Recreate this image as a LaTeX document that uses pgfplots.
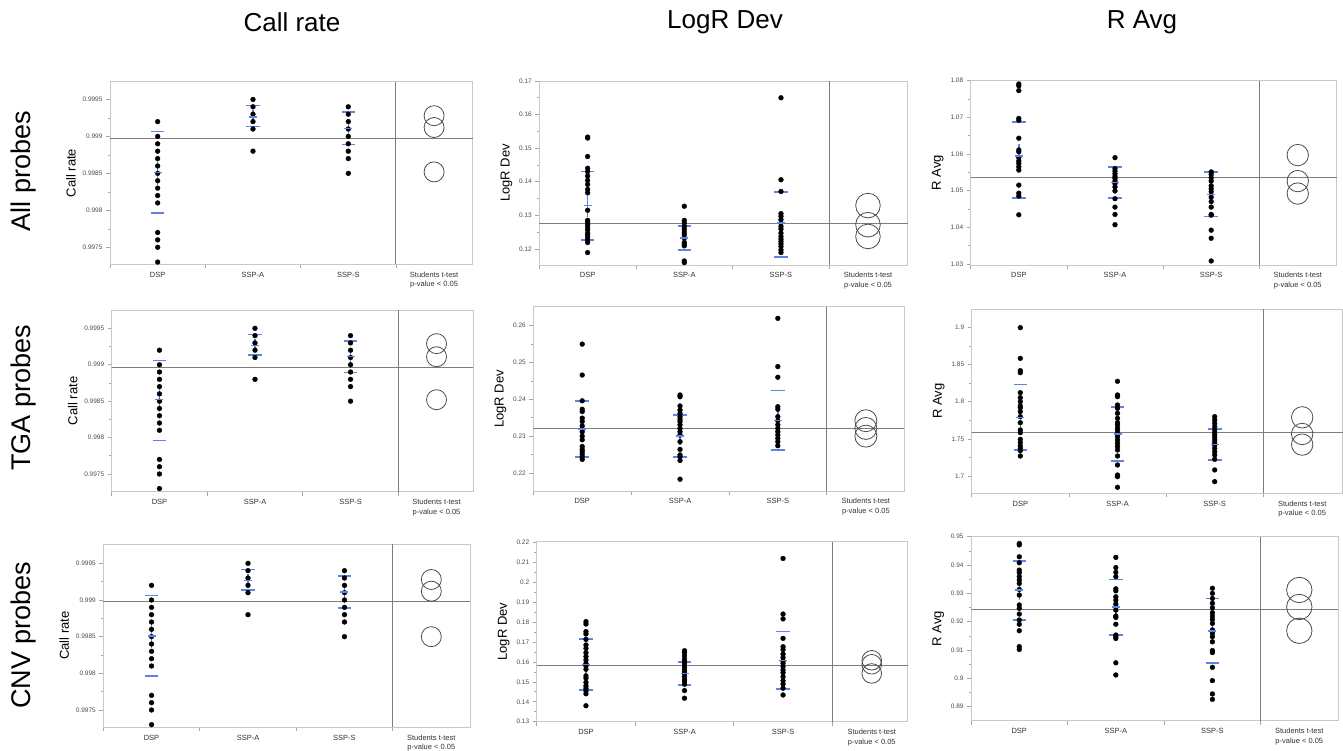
\documentclass[border=0pt]{standalone}
\usepackage{fontspec}
\setmainfont{Liberation Sans}
\usepackage{pgfplots}
\pgfplotsset{compat=1.18}
\usepackage{pgfplotstable}
\usetikzlibrary{plotmarks}
\definecolor{sdblue}{RGB}{95,130,230}
\definecolor{framec}{RGB}{200,200,200}
\definecolor{refl}{RGB}{125,125,125}

\pgfplotstableread{
x y
0.5 0.9992
0.5 0.9990
0.5 0.9989
0.5 0.9988
0.5 0.9987
0.5 0.9986
0.5 0.9985
0.5 0.9984
0.5 0.9983
0.5 0.9982
0.5 0.9981
0.5 0.9977
0.5 0.9976
0.5 0.9975
0.5 0.9973
1.5 0.9995
1.5 0.9994
1.5 0.9993
1.5 0.9992
1.5 0.9991
1.5 0.9988
2.5 0.9994
2.5 0.9993
2.5 0.9992
2.5 0.9991
2.5 0.9990
2.5 0.9989
2.5 0.9988
2.5 0.9987
2.5 0.9985
}\tCR

\pgfplotsset{
  panel/.style={
    scale only axis, anchor=south west,
    xmin=0,
    axis line style={draw=framec, line width=0.9pt},
    xtick={0,1,2,3}, xticklabels={},
    extra x ticks={0.5,1.5,2.5,3.4},
    extra x tick labels={DSP,SSP-A,SSP-S,{Students t-test\\p-value < 0.05}},
    extra x tick style={major tick length=0pt, xticklabel style={align=center, font=\fontsize{7.5}{9.5}\selectfont, text=black!80, yshift=-4pt}},
    tick align=outside, xtick pos=bottom, ytick pos=left,
    major tick length=4pt, minor tick length=2.5pt,
    every tick/.style={draw=gray!70, line width=0.6pt},
    minor y tick num=1,
    yticklabel style={font=\fontsize{6.5}{7}\selectfont, text=black!70},
    ylabel style={font=\fontsize{13}{14}\selectfont},
    clip=false,
    unbounded coords=jump,
  },
  dots/.style={only marks, mark=*, mark size=2.4pt, black},
  sd/.style={draw=sdblue, line width=1.7pt, mark=none},
  mn/.style={only marks, mark=-, mark size=4pt, color=sdblue, mark options={draw=sdblue, line width=1.5pt}, error bars/.cd, y dir=both, y explicit, error mark=-, error mark options={mark size=4pt, draw=sdblue, line width=1.5pt}, error bar style={draw=sdblue, line width=1.5pt}},
  cmp/.style={only marks, mark=o, mark options={draw=black!70, line width=0.8pt}},
  refline/.style={refl, line width=1pt},
}

\begin{document}
\begin{tikzpicture}
\path[use as bounding box] (0pt,0pt) rectangle (1343pt,751pt);

\node[font=\fontsize{26}{30}\selectfont] at (292pt,729pt) {Call rate};
\node[font=\fontsize{26}{30}\selectfont] at (725pt,729pt) {LogR Dev};
\node[font=\fontsize{26}{30}\selectfont] at (1142pt,729pt) {R Avg};
\node[rotate=90, font=\fontsize{27}{30}\selectfont] at (24pt,580pt) {All probes};
\node[rotate=90, font=\fontsize{27}{30}\selectfont] at (24pt,353pt) {TGA probes};
\node[rotate=90, font=\fontsize{27}{30}\selectfont] at (24pt,116pt) {CNV probes};

% ---------- Row 1, Call rate
\begin{axis}[panel, at={(110pt,486.7pt)}, width=362.7pt, height=182.6pt,
  xmax=3.805, ymin=0.99727, ymax=0.99974,
  ytick={0.9975,0.998,0.9985,0.999,0.9995}, yticklabels={0.9975,0.998,0.9985,0.999,0.9995},
  ylabel={Call rate}]
\addplot[refline] coordinates {(0,0.99897) (3.805,0.99897)};
\addplot[refline] coordinates {(3,0.99727) (3,0.99974)};
\addplot[dots] table[x=x,y=y] {\tCR};
\addplot[sd] coordinates {(0.43,0.999065) (0.57,0.999065) (0.5,nan) (0.43,0.99796) (0.57,0.99796) (0.5,nan) (1.43,0.999416) (1.57,0.999416) (1.5,nan) (1.43,0.999132) (1.57,0.999132) (1.5,nan) (2.43,0.999331) (2.57,0.999331) (2.5,nan) (2.43,0.998892) (2.57,0.998892)};
\addplot[mn] coordinates {(0.5,0.99851) +- (0,0.00011) (1.5,0.999265) +- (0,0.00004) (2.5,0.99911) +- (0,0.00005)};
\addplot[cmp, mark size=10pt] coordinates {(3.4,0.99928) (3.4,0.99912) (3.4,0.99852)};
\end{axis}

% ---------- Row 1, LogR Dev
\begin{axis}[panel, at={(539.3pt,486pt)}, width=368.4pt, height=184pt,
  xmax=3.811, ymin=0.1152, ymax=0.17,
  ytick={0.12,0.13,0.14,0.15,0.16,0.17}, yticklabels={0.12,0.13,0.14,0.15,0.16,0.17},
  ylabel={LogR Dev}]
\addplot[refline] coordinates {(0,0.1277) (3.811,0.1277)};
\addplot[refline] coordinates {(3,0.1152) (3,0.17)};
\addplot[dots] coordinates {
(0.5,0.1533)(0.5,0.1530)(0.5,0.1475)(0.5,0.1440)(0.5,0.1430)(0.5,0.1417)(0.5,0.1404)(0.5,0.1392)(0.5,0.1377)(0.5,0.1367)(0.5,0.1315)(0.5,0.1285)(0.5,0.1279)(0.5,0.1272)(0.5,0.1265)(0.5,0.1257)(0.5,0.1247)(0.5,0.1242)(0.5,0.1235)(0.5,0.1227)(0.5,0.1219)(0.5,0.1189)
(1.5,0.1327)(1.5,0.1285)(1.5,0.1277)(1.5,0.1267)(1.5,0.1259)(1.5,0.1250)(1.5,0.1242)(1.5,0.1232)(1.5,0.1219)(1.5,0.1214)(1.5,0.1209)(1.5,0.1164)(1.5,0.1159)
(2.5,0.1650)(2.5,0.1406)(2.5,0.1371)(2.5,0.1305)(2.5,0.1297)(2.5,0.1287)(2.5,0.1277)(2.5,0.1267)(2.5,0.1259)(2.5,0.1247)(2.5,0.1237)(2.5,0.1229)(2.5,0.1222)(2.5,0.1215)(2.5,0.1207)(2.5,0.1197)(2.5,0.1189)};
\addplot[sd] coordinates {(0.43,0.1430) (0.57,0.1430) (0.5,nan) (0.43,0.1227) (0.57,0.1227) (0.5,nan) (1.43,0.1269) (1.57,0.1269) (1.5,nan) (1.43,0.1197) (1.57,0.1197) (1.5,nan) (2.43,0.1369) (2.57,0.1369) (2.5,nan) (2.43,0.1175) (2.57,0.1175)};
\addplot[mn] coordinates {(0.5,0.1329) +- (0,0.0022) (1.5,0.1232) +- (0,0.0009) (2.5,0.1277) +- (0,0.0014)};
\addplot[cmp, mark size=12.3pt] coordinates {(3.4,0.1329) (3.4,0.1272) (3.4,0.1237)};
\end{axis}

% ---------- Row 1, R Avg
\begin{axis}[panel, at={(970.7pt,486pt)}, width=366pt, height=184.3pt,
  xmax=3.805, ymin=1.0297, ymax=1.08,
  ytick={1.03,1.04,1.05,1.06,1.07,1.08}, yticklabels={1.03,1.04,1.05,1.06,1.07,1.08},
  ylabel={R Avg}]
\addplot[refline] coordinates {(0,1.05355) (3.805,1.05355)};
\addplot[refline] coordinates {(3,1.0297) (3,1.08)};
\addplot[dots] coordinates {
(0.5,1.0791)(0.5,1.0786)(0.5,1.0773)(0.5,1.0697)(0.5,1.0692)(0.5,1.0643)(0.5,1.0611)(0.5,1.0606)(0.5,1.0590)(0.5,1.0581)(0.5,1.0574)(0.5,1.0565)(0.5,1.0556)(0.5,1.0515)(0.5,1.0493)(0.5,1.0485)(0.5,1.0434)
(1.5,1.0590)(1.5,1.0560)(1.5,1.0553)(1.5,1.0546)(1.5,1.0539)(1.5,1.0533)(1.5,1.0526)(1.5,1.0519)(1.5,1.0510)(1.5,1.0499)(1.5,1.0478)(1.5,1.0455)(1.5,1.0435)(1.5,1.0407)
(2.5,1.0551)(2.5,1.0544)(2.5,1.0535)(2.5,1.0526)(2.5,1.0513)(2.5,1.0505)(2.5,1.0497)(2.5,1.0482)(2.5,1.0470)(2.5,1.0455)(2.5,1.0435)(2.5,1.0433)(2.5,1.0392)(2.5,1.0370)(2.5,1.0308)};
\addplot[sd] coordinates {(0.43,1.0688) (0.57,1.0688) (0.5,nan) (0.43,1.0479) (0.57,1.0479) (0.5,nan) (1.43,1.0564) (1.57,1.0564) (1.5,nan) (1.43,1.0479) (1.57,1.0479) (1.5,nan) (2.43,1.0551) (2.57,1.0551) (2.5,nan) (2.43,1.0429) (2.57,1.0429)};
\addplot[mn] coordinates {(0.5,1.0595) +- (0,0.0020) (1.5,1.0522) +- (0,0.0009) (2.5,1.0489) +- (0,0.0011)};
\addplot[cmp, mark size=10.7pt] coordinates {(3.4,1.0597) (3.4,1.0526) (3.4,1.0492)};
\end{axis}

% ---------- Row 2, Call rate
\begin{axis}[panel, at={(111.7pt,259.3pt)}, width=361.6pt, height=181.7pt,
  xmax=3.785, ymin=0.997257, ymax=0.999752,
  ytick={0.9975,0.998,0.9985,0.999,0.9995}, yticklabels={0.9975,0.998,0.9985,0.999,0.9995},
  ylabel={Call rate}]
\addplot[refline] coordinates {(0,0.998965) (3.785,0.998965)};
\addplot[refline] coordinates {(3,0.997257) (3,0.999752)};
\addplot[dots] table[x=x,y=y] {\tCR};
\addplot[sd] coordinates {(0.43,0.99906) (0.57,0.99906) (0.5,nan) (0.43,0.99796) (0.57,0.99796) (0.5,nan) (1.43,0.999416) (1.57,0.999416) (1.5,nan) (1.43,0.999132) (1.57,0.999132) (1.5,nan) (2.43,0.999331) (2.57,0.999331) (2.5,nan) (2.43,0.998892) (2.57,0.998892)};
\addplot[mn] coordinates {(0.5,0.99852) +- (0,0.00011) (1.5,0.999265) +- (0,0.00004) (2.5,0.99911) +- (0,0.00005)};
\addplot[cmp, mark size=10pt] coordinates {(3.4,0.99929) (3.4,0.99911) (3.4,0.99852)};
\end{axis}

% ---------- Row 2, LogR Dev
\begin{axis}[panel, at={(533.3pt,260pt)}, width=371pt, height=184.3pt,
  xmax=3.793, ymin=0.21511, ymax=0.26516,
  ytick={0.22,0.23,0.24,0.25,0.26}, yticklabels={0.22,0.23,0.24,0.25,0.26},
  ylabel={LogR Dev}]
\addplot[refline] coordinates {(0,0.23213) (3.793,0.23213)};
\addplot[refline] coordinates {(3,0.21511) (3,0.26516)};
\addplot[dots] coordinates {
(0.5,0.2550)(0.5,0.2466)(0.5,0.2396)(0.5,0.2373)(0.5,0.2367)(0.5,0.2349)(0.5,0.2340)(0.5,0.2328)(0.5,0.2319)(0.5,0.2312)(0.5,0.2300)(0.5,0.2290)(0.5,0.2272)(0.5,0.2264)(0.5,0.2258)(0.5,0.2251)(0.5,0.2244)(0.5,0.2237)
(1.5,0.2412)(1.5,0.2407)(1.5,0.2382)(1.5,0.2371)(1.5,0.2362)(1.5,0.2353)(1.5,0.2346)(1.5,0.2340)(1.5,0.2331)(1.5,0.2321)(1.5,0.2312)(1.5,0.2303)(1.5,0.2285)(1.5,0.2264)(1.5,0.2249)(1.5,0.2244)(1.5,0.2234)(1.5,0.2183)
(2.5,0.2620)(2.5,0.2489)(2.5,0.2460)(2.5,0.2380)(2.5,0.2373)(2.5,0.2353)(2.5,0.2342)(2.5,0.2331)(2.5,0.2321)(2.5,0.2312)(2.5,0.2303)(2.5,0.2294)(2.5,0.2285)(2.5,0.2274)};
\addplot[sd] coordinates {(0.43,0.2396) (0.57,0.2396) (0.5,nan) (0.43,0.2243) (0.57,0.2243) (0.5,nan) (1.43,0.2358) (1.57,0.2358) (1.5,nan) (1.43,0.2244) (1.57,0.2244) (1.5,nan) (2.43,0.2424) (2.57,0.2424) (2.5,nan) (2.43,0.2263) (2.57,0.2263)};
\addplot[mn] coordinates {(0.5,0.2320) +- (0,0.0015) (1.5,0.2301) +- (0,0.0013) (2.5,0.2342) +- (0,0.0016)};
\addplot[cmp, mark size=11pt] coordinates {(3.4,0.2342) (3.4,0.2321) (3.4,0.2300)};
\end{axis}

% ---------- Row 2, R Avg
\begin{axis}[panel, at={(971.7pt,257.7pt)}, width=371pt, height=184.3pt,
  xmax=3.817, ymin=1.6767, ymax=1.9247,
  ytick={1.7,1.75,1.8,1.85,1.9}, yticklabels={1.7,1.75,1.8,1.85,1.9},
  ylabel={R Avg}]
\addplot[refline] coordinates {(0,1.7587) (3.817,1.7587)};
\addplot[refline] coordinates {(3,1.6767) (3,1.9247)};
\addplot[dots] coordinates {
(0.5,1.8996)(0.5,1.8583)(0.5,1.8417)(0.5,1.8390)(0.5,1.8121)(0.5,1.8054)(0.5,1.8000)(0.5,1.7942)(0.5,1.7919)(0.5,1.7865)(0.5,1.7798)(0.5,1.7717)(0.5,1.7619)(0.5,1.7583)(0.5,1.7493)(0.5,1.7448)(0.5,1.7404)(0.5,1.7372)(0.5,1.7341)(0.5,1.7269)
(1.5,1.8274)(1.5,1.8090)(1.5,1.8067)(1.5,1.7955)(1.5,1.7910)(1.5,1.7843)(1.5,1.7776)(1.5,1.7717)(1.5,1.7686)(1.5,1.7641)(1.5,1.7605)(1.5,1.7565)(1.5,1.7529)(1.5,1.7484)(1.5,1.7439)(1.5,1.7395)(1.5,1.7350)(1.5,1.7269)(1.5,1.7148)(1.5,1.7013)(1.5,1.6991)(1.5,1.6848)
(2.5,1.7798)(2.5,1.7753)(2.5,1.7709)(2.5,1.7664)(2.5,1.7619)(2.5,1.7583)(2.5,1.7552)(2.5,1.7520)(2.5,1.7484)(2.5,1.7448)(2.5,1.7417)(2.5,1.7372)(2.5,1.7327)(2.5,1.7283)(2.5,1.7224)(2.5,1.7081)(2.5,1.6924)};
\addplot[sd] coordinates {(0.43,1.8229) (0.57,1.8229) (0.5,nan) (0.43,1.7350) (0.57,1.7350) (0.5,nan) (1.43,1.7924) (1.57,1.7924) (1.5,nan) (1.43,1.7202) (1.57,1.7202) (1.5,nan) (2.43,1.7628) (2.57,1.7628) (2.5,nan) (2.43,1.7215) (2.57,1.7215)};
\addplot[mn] coordinates {(0.5,1.7789) +- (0,0.0090) (1.5,1.7565) +- (0,0.0075) (2.5,1.7422) +- (0,0.0036)};
\addplot[cmp, mark size=10.7pt] coordinates {(3.4,1.7789) (3.4,1.7565) (3.4,1.7422)};
\end{axis}

% ---------- Row 3, Call rate
\begin{axis}[panel, at={(103.3pt,23.7pt)}, width=366.7pt, height=183.3pt,
  xmax=3.801, ymin=0.997264, ymax=0.999764,
  ytick={0.9975,0.998,0.9985,0.999,0.9995}, yticklabels={0.9975,0.998,0.9985,0.999,0.9995},
  ylabel={Call rate}]
\addplot[refline] coordinates {(0,0.998973) (3.801,0.998973)};
\addplot[refline] coordinates {(3,0.997264) (3,0.999764)};
\addplot[dots] table[x=x,y=y] {\tCR};
\addplot[sd] coordinates {(0.43,0.99906) (0.57,0.99906) (0.5,nan) (0.43,0.99796) (0.57,0.99796) (0.5,nan) (1.43,0.999416) (1.57,0.999416) (1.5,nan) (1.43,0.999132) (1.57,0.999132) (1.5,nan) (2.43,0.999331) (2.57,0.999331) (2.5,nan) (2.43,0.998892) (2.57,0.998892)};
\addplot[mn] coordinates {(0.5,0.99851) +- (0,0.00011) (1.5,0.999265) +- (0,0.00004) (2.5,0.99911) +- (0,0.00005)};
\addplot[cmp, mark size=10pt] coordinates {(3.4,0.99928) (3.4,0.99912) (3.4,0.99850)};
\end{axis}

% ---------- Row 3, LogR Dev
\begin{axis}[panel, at={(536.7pt,29.3pt)}, width=371pt, height=180pt,
  xmax=3.765, ymin=0.13, ymax=0.2203,
  ytick={0.13,0.14,0.15,0.16,0.17,0.18,0.19,0.2,0.21,0.22}, yticklabels={0.13,0.14,0.15,0.16,0.17,0.18,0.19,0.2,0.21,0.22},
  ylabel={LogR Dev}]
\addplot[refline] coordinates {(0,0.15796) (3.765,0.15796)};
\addplot[refline] coordinates {(3,0.13) (3,0.2203)};
\addplot[dots] coordinates {
(0.5,0.1802)(0.5,0.1790)(0.5,0.1752)(0.5,0.1740)(0.5,0.1713)(0.5,0.1685)(0.5,0.1668)(0.5,0.1646)(0.5,0.1627)(0.5,0.1610)(0.5,0.1593)(0.5,0.1580)(0.5,0.1563)(0.5,0.1530)(0.5,0.1518)(0.5,0.1497)(0.5,0.1480)(0.5,0.1468)(0.5,0.1455)(0.5,0.1440)(0.5,0.1380)
(1.5,0.1656)(1.5,0.1646)(1.5,0.1630)(1.5,0.1613)(1.5,0.1601)(1.5,0.1590)(1.5,0.1576)(1.5,0.1563)(1.5,0.1551)(1.5,0.1540)(1.5,0.1526)(1.5,0.1513)(1.5,0.1501)(1.5,0.1488)(1.5,0.1456)(1.5,0.1418)
(2.5,0.2119)(2.5,0.1840)(2.5,0.1816)(2.5,0.1718)(2.5,0.1676)(2.5,0.1662)(2.5,0.1639)(2.5,0.1621)(2.5,0.1604)(2.5,0.1593)(2.5,0.1576)(2.5,0.1559)(2.5,0.1546)(2.5,0.1526)(2.5,0.1506)(2.5,0.1489)(2.5,0.1468)(2.5,0.1434)};
\addplot[sd] coordinates {(0.43,0.1715) (0.57,0.1715) (0.5,nan) (0.43,0.1459) (0.57,0.1459) (0.5,nan) (1.43,0.1600) (1.57,0.1600) (1.5,nan) (1.43,0.1484) (1.57,0.1484) (1.5,nan) (2.43,0.1752) (2.57,0.1752) (2.5,nan) (2.43,0.1464) (2.57,0.1464)};
\addplot[mn] coordinates {(0.5,0.1588) +- (0,0.0025) (1.5,0.1543) +- (0,0.0012) (2.5,0.1608) +- (0,0.0027)};
\addplot[cmp, mark size=9.8pt] coordinates {(3.4,0.1608) (3.4,0.1588) (3.4,0.1542)};
\end{axis}

% ---------- Row 3, R Avg
\begin{axis}[panel, at={(971pt,30.3pt)}, width=367.3pt, height=184pt,
  xmax=3.804, ymin=0.88506, ymax=0.95,
  ytick={0.89,0.9,0.91,0.92,0.93,0.94,0.95}, yticklabels={0.89,0.9,0.91,0.92,0.93,0.94,0.95},
  ylabel={R Avg}]
\addplot[refline] coordinates {(0,0.92447) (3.804,0.92447)};
\addplot[refline] coordinates {(3,0.88506) (3,0.95)};
\addplot[dots] coordinates {
(0.5,0.9476)(0.5,0.9471)(0.5,0.9429)(0.5,0.9408)(0.5,0.9382)(0.5,0.9373)(0.5,0.9359)(0.5,0.9347)(0.5,0.9335)(0.5,0.9314)(0.5,0.9294)(0.5,0.9259)(0.5,0.9247)(0.5,0.9227)(0.5,0.9206)(0.5,0.9191)(0.5,0.9168)(0.5,0.9112)(0.5,0.9102)
(1.5,0.9427)(1.5,0.9391)(1.5,0.9374)(1.5,0.9359)(1.5,0.9316)(1.5,0.9309)(1.5,0.9288)(1.5,0.9276)(1.5,0.9262)(1.5,0.9251)(1.5,0.9241)(1.5,0.9220)(1.5,0.9215)(1.5,0.9191)(1.5,0.9153)(1.5,0.9147)(1.5,0.9141)(1.5,0.9055)(1.5,0.9012)
(2.5,0.9318)(2.5,0.9300)(2.5,0.9282)(2.5,0.9265)(2.5,0.9249)(2.5,0.9232)(2.5,0.9220)(2.5,0.9208)(2.5,0.9194)(2.5,0.9171)(2.5,0.9159)(2.5,0.9147)(2.5,0.9129)(2.5,0.9098)(2.5,0.9091)(2.5,0.9039)(2.5,0.8992)(2.5,0.8945)(2.5,0.8926)};
\addplot[sd] coordinates {(0.43,0.9415) (0.57,0.9415) (0.5,nan) (0.43,0.9206) (0.57,0.9206) (0.5,nan) (1.43,0.9349) (1.57,0.9349) (1.5,nan) (1.43,0.9153) (1.57,0.9153) (1.5,nan) (2.43,0.9282) (2.57,0.9282) (2.5,nan) (2.43,0.9053) (2.57,0.9053)};
\addplot[mn] coordinates {(0.5,0.9312) +- (0,0.0022) (1.5,0.9252) +- (0,0.0019) (2.5,0.9168) +- (0,0.0023)};
\addplot[cmp, mark size=12.7pt] coordinates {(3.4,0.9312) (3.4,0.9252) (3.4,0.9168)};
\end{axis}
\end{tikzpicture}
\end{document}
